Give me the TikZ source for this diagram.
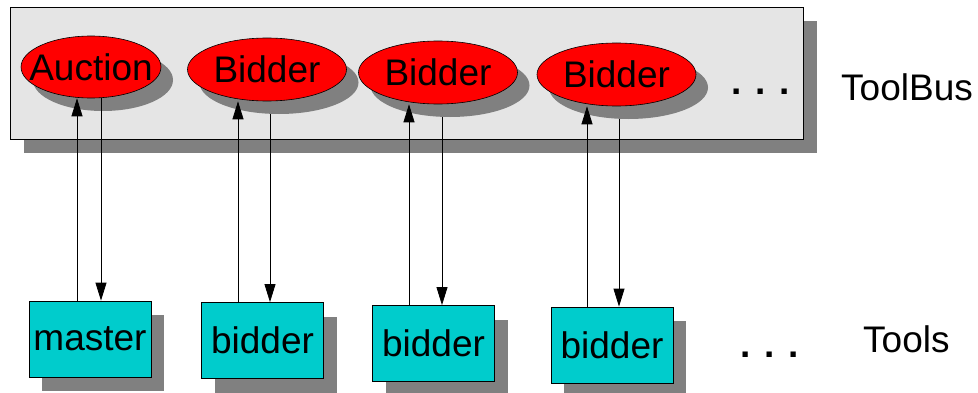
\documentclass[tikz,border=0pt]{standalone}
\usepackage{fontspec}
\setmainfont{Liberation Sans}
\usepackage{xcolor}
\usetikzlibrary{shapes.geometric}
\usetikzlibrary{arrows.meta}
\usetikzlibrary{shadows}
\definecolor{toolcyan}{RGB}{0,204,204}
\definecolor{busgray}{RGB}{229,229,229}
\definecolor{shade}{RGB}{128,128,128}

\begin{document}
\begin{tikzpicture}[x=1pt, y=1pt, every node/.style={font=\fontsize{37}{44}\selectfont, inner sep=0pt},
	proc/.style={ellipse, draw, line width=0.6pt, fill=red, minimum width=159, minimum height=63, drop shadow={shadow xshift=12pt, shadow yshift=-13pt, fill=shade, opacity=1}},
	tool/.style={rectangle, draw, line width=0.8pt, fill=toolcyan, minimum width=122, minimum height=76, drop shadow={shadow xshift=13pt, shadow yshift=-14pt, fill=shade, opacity=1}},
	link/.style={-{Triangle[length=18pt, width=11pt]}, line width=0.8pt}]
			\useasboundingbox (0,0) rectangle (978,392);
			% Bus
			\node[draw, line width=0.9pt, fill=busgray, minimum width=793, minimum height=132, drop shadow={shadow xshift=14pt, shadow yshift=-14pt, fill=shade, opacity=1}] (bus) at (406.5,319) {};
			\node[proc, minimum width=140, minimum height=62, label={center:Auction}] (auc) at (91,325) {};
			\node[proc, label={center:Bidder}] (p1) at (267,322.5) {};
			\node[proc, label={center:Bidder}] (p2) at (438,319.5) {};
			\node[proc, label={center:Bidder}] (p3) at (616.5,317.5) {};
			\node[anchor=base, font=\fontsize{37}{44}\selectfont\bfseries] (busdots) at (760.5,298) {. . .};
			\node[anchor=base west] (buslabel) at (841,292) {ToolBus};
			
			% Tools
			\node[tool] (m) at (90,53) {master};
			\node[tool] (t1) at (262.5,51.5) {bidder};
			\node[tool] (t2) at (433.5,48.5) {bidder};
			\node[tool] (t3) at (612,47) {bidder};
			\node[anchor=base, font=\fontsize{37}{44}\selectfont\bfseries] (tooldots) at (770,35) {. . .};
			\node[anchor=base west] (toollabel) at (863,40) {Tools};
			
			% Links
			\draw[link] ([xshift=-13]m.north) -- ([xshift=-13]m.north |- auc.south);
			\draw[link] ([xshift=11]m.north |- auc.south) -- ([xshift=11]m.north);
			\draw[link] ([xshift=-24.5]t1.north) -- ([xshift=-24.5]t1.north |- p1.south);
			\draw[link] ([xshift=7.5, yshift=-13]t1.north |- p1.south) -- ([xshift=7.5]t1.north);
			\draw[link] ([xshift=-24.5]t2.north) -- ([xshift=-24.5]t2.north |- p2.south);
			\draw[link] ([xshift=8.5, yshift=-13]t2.north |- p2.south) -- ([xshift=8.5]t2.north);
			\draw[link] ([xshift=-25]t3.north) -- ([xshift=-25]t3.north |- p3.south);
			\draw[link] ([xshift=7, yshift=-13]t3.north |- p3.south) -- ([xshift=7]t3.north);
			
		\end{tikzpicture}
\end{document}
